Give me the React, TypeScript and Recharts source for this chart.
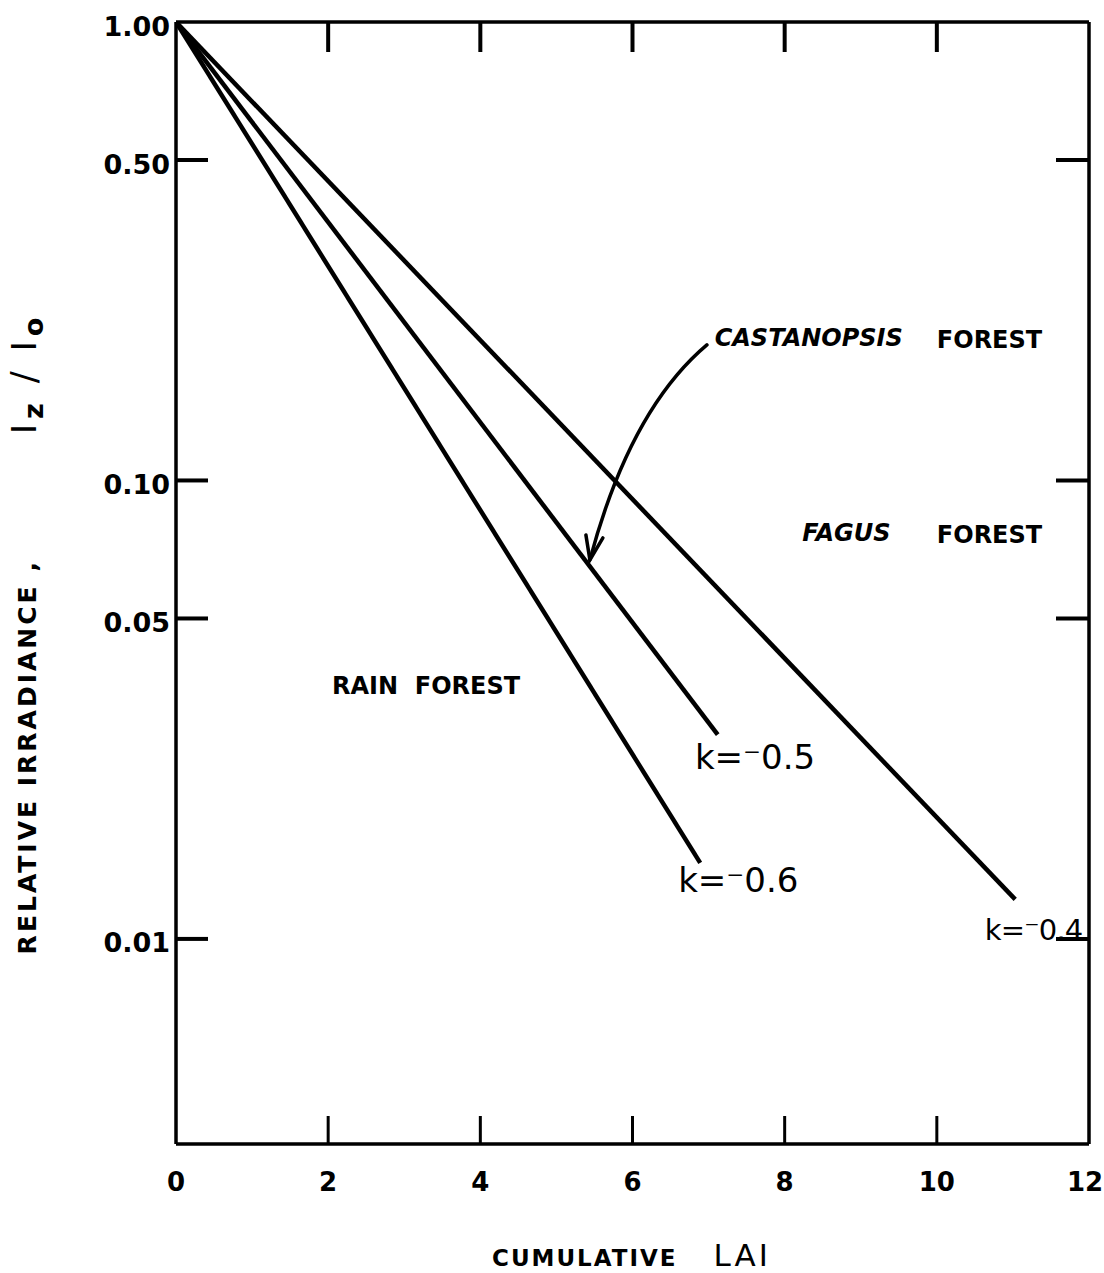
import { LineChart, Line, XAxis, YAxis, ReferenceDot } from 'recharts'

// each curve runs from the top of the canopy (LAI 0, full light) to where it was drawn to
const k04Lai = [0, 11.03]
const k04Irr = [1.0, 0.0122]
const k05Lai = [0, 7.12]
const k05Irr = [1.0, 0.0279]
const k06Lai = [0, 6.89]
const k06Irr = [1.0, 0.01465]

const xTicks = [0, 2, 4, 6, 8, 10, 12]
const yTicks = [0.01, 0.05, 0.1, 0.5, 1.0]
const yTickLabels = ['0.01', '0.05', '0.10', '0.50', '1.00']

// text written on the plot, anchored in data units
const notes = [
  { text: 'CASTANOPSIS', lai: 7.08, irr: 0.2046, italic: true, size: 24 },
  { text: 'FOREST', lai: 10.0, irr: 0.2025, italic: false, size: 24 },
  { text: 'FAGUS', lai: 8.23, irr: 0.0768, italic: true, size: 24 },
  { text: 'FOREST', lai: 10.0, irr: 0.0761, italic: false, size: 24 },
  { text: 'RAIN  FOREST', lai: 2.05, irr: 0.0356, italic: false, size: 24 },
  { text: 'k=\u207B0.5', lai: 6.82, irr: 0.0249, italic: false, size: 34 },
  { text: 'k=\u207B0.6', lai: 6.6, irr: 0.01345, italic: false, size: 34 },
  { text: 'k=\u207B0.4', lai: 10.63, irr: 0.01046, italic: false, size: 29 },
]

// where the Castanopsis arrow lands on the k = -0.5 line
const arrowTip = { lai: 5.44, irr: 0.0671 }

const toPoints = (lai: number[], irr: number[]) => lai.map((l, i) => ({ lai: l, irr: irr[i] }))

const FONT = '"DejaVu Sans", sans-serif'
const Y_DOMAIN: [number, number] = [0.00357, 1]
const W = 1104
const H = 1273
const MARGIN = { top: 22, right: 14, bottom: 0, left: 0 }
const X_AXIS_H = 129
const PLOT_H = H - MARGIN.top - MARGIN.bottom - X_AXIS_H

function LeftTick(props: any) {
  const { x, y, payload } = props
  const i = yTicks.indexOf(payload.value)
  return (
    <g>
      {payload.value < 1 && (
        <line x1={x} x2={x + 32} y1={y} y2={y} stroke="#000" strokeWidth={4} />
      )}
      <text
        x={x - 6}
        y={y + 4}
        textAnchor="end"
        dominantBaseline="central"
        fontFamily={FONT}
        fontWeight="bold"
        fontSize={27}
        fill="#000"
      >
        {yTickLabels[i]}
      </text>
    </g>
  )
}

function RightTick(props: any) {
  const { x, y, payload } = props
  if (payload.value >= 1) return <g />
  return <line x1={x} x2={x - 33} y1={y} y2={y} stroke="#000" strokeWidth={4} />
}

// bottom axis draws its labels, its own inward ticks and the matching ticks on the top edge
function BottomTick(props: any) {
  const { x, y, payload } = props
  const inner = payload.value > 0 && payload.value < 12
  const top = y - PLOT_H
  return (
    <g>
      {inner && <line x1={x} x2={x} y1={y} y2={y - 28} stroke="#000" strokeWidth={3} />}
      {inner && <line x1={x} x2={x} y1={top} y2={top + 30} stroke="#000" strokeWidth={4} />}
      <text
        x={payload.value === 12 ? x - 4 : x}
        y={y + 38}
        textAnchor="middle"
        dominantBaseline="central"
        fontFamily={FONT}
        fontWeight="bold"
        fontSize={26}
        fill="#000"
      >
        {payload.value}
      </text>
    </g>
  )
}

function YTitle(props: any) {
  const vb = props.viewBox || { x: 0, y: 22 }
  const cx = vb.x + 27
  const cy = vb.y + 614
  return (
    <text
      x={cx}
      y={cy}
      transform={`rotate(-90 ${cx} ${cy})`}
      textAnchor="middle"
      fontFamily={FONT}
      fontSize={25}
      fill="#000"
    >
      <tspan dy={9} fontWeight="bold" fontSize={25} letterSpacing={3}>
        RELATIVE IRRADIANCE ,
      </tspan>
      <tspan fontSize={34} dx={125}>I</tspan>
      <tspan fontSize={27} fontWeight="bold" dy={7} dx={5}>z</tspan>
      <tspan fontSize={36} dy={-7} dx={20}>/</tspan>
      <tspan fontSize={34} dx={20}>I</tspan>
      <tspan fontSize={27} fontWeight="bold" dy={7} dx={5}>o</tspan>
    </text>
  )
}

function XTitle(props: any) {
  const vb = props.viewBox || { x: 176, y: 1144, width: 913 }
  return (
    <text x={vb.x + 316} y={vb.y + 122} fontFamily={FONT} fontSize={23} fill="#000">
      <tspan fontWeight="bold" fontSize={23} letterSpacing={2}>CUMULATIVE</tspan>
      <tspan fontSize={31} dx={36} letterSpacing={3}>LAI</tspan>
    </text>
  )
}

const noteShape = (n: (typeof notes)[number]) => (props: any) => (
  <text
    x={props.cx}
    y={props.cy}
    textAnchor="start"
    dominantBaseline="central"
    fontFamily={FONT}
    fontWeight={n.size > 28 ? 'normal' : 'bold'}
    fontStyle={n.italic ? 'italic' : 'normal'}
    fontSize={n.size}
    letterSpacing={n.size === 29 ? -0.8 : 0}
    fill="#000"
    style={{ whiteSpace: 'pre' }}
  >
    {n.text}
  </text>
)

function ArrowShape(props: any) {
  const { cx, cy } = props
  return (
    <g fill="none" stroke="#000" strokeWidth={3.5} strokeLinecap="round">
      <path d={`M ${cx + 117} ${cy - 215} Q ${cx + 40} ${cy - 150} ${cx} ${cy}`} />
      <path d={`M ${cx - 4} ${cy - 25} L ${cx} ${cy} L ${cx + 13} ${cy - 22}`} />
    </g>
  )
}

export default function App() {
  return (
    <div style={{ position: 'absolute', left: 0, top: 0, background: '#fff' }}>
      <LineChart width={W} height={H} margin={MARGIN}>
        <XAxis
          dataKey="lai"
          type="number"
          domain={[0, 12]}
          allowDataOverflow
          ticks={xTicks}
          interval={0}
          height={X_AXIS_H}
          tickSize={0}
          tickMargin={0}
          tick={BottomTick}
          axisLine={{ stroke: '#000', strokeWidth: 3.5 }}
          label={<XTitle />}
        />
        <YAxis
          dataKey="irr"
          type="number"
          scale="log"
          domain={Y_DOMAIN}
          allowDataOverflow
          ticks={yTicks}
          interval={0}
          width={176}
          tickSize={0}
          tickMargin={0}
          tick={LeftTick}
          axisLine={{ stroke: '#000', strokeWidth: 3.5 }}
          label={<YTitle />}
        />
        <YAxis
          yAxisId="right"
          orientation="right"
          type="number"
          scale="log"
          domain={Y_DOMAIN}
          allowDataOverflow
          ticks={yTicks}
          interval={0}
          width={1}
          tickSize={0}
          tickMargin={0}
          tick={RightTick}
          axisLine={{ stroke: '#000', strokeWidth: 3.5 }}
        />
        <Line
          data={toPoints(k04Lai, k04Irr)}
          dataKey="irr"
          stroke="#000"
          strokeWidth={4.5}
          dot={false}
          isAnimationActive={false}
        />
        <Line
          data={toPoints(k05Lai, k05Irr)}
          dataKey="irr"
          stroke="#000"
          strokeWidth={4.5}
          dot={false}
          isAnimationActive={false}
        />
        <Line
          data={toPoints(k06Lai, k06Irr)}
          dataKey="irr"
          stroke="#000"
          strokeWidth={4.5}
          dot={false}
          isAnimationActive={false}
        />
        <ReferenceDot x={arrowTip.lai} y={arrowTip.irr} r={0} shape={ArrowShape} ifOverflow="visible" />
        {notes.map((n, i) => (
          <ReferenceDot key={i} x={n.lai} y={n.irr} r={0} shape={noteShape(n)} ifOverflow="visible" />
        ))}
        {/* frame top edge */}
        <line x1={176} x2={W - MARGIN.right - 1} y1={MARGIN.top} y2={MARGIN.top} stroke="#000" strokeWidth={3.5} />
      </LineChart>
    </div>
  )
}
